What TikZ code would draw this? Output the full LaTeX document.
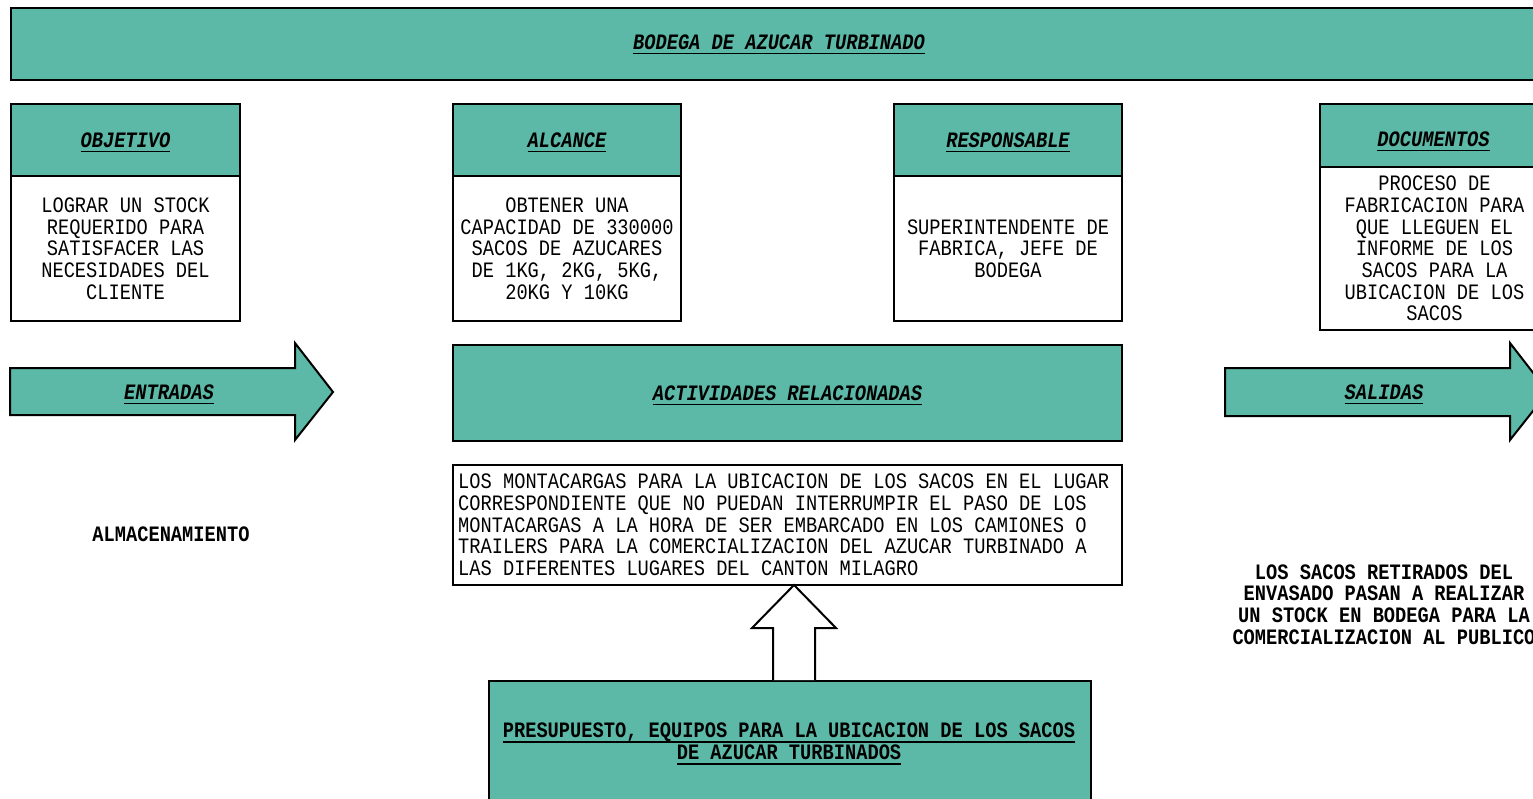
\documentclass[tikz,border=0pt]{standalone}
\usepackage{fontspec}
\setmainfont{Liberation Mono}[FakeStretch=0.85]
\definecolor{teal1}{RGB}{92,185,167}
% thick underline used on the headings (kept out of the box depth)
\newcommand\ulin[1]{\setbox0=\hbox{#1}\leavevmode\rlap{\smash{\rule[-5pt]{\wd0}{1.7pt}}}\box0}
\tikzset{
  base/.style={draw=black, line width=2pt, inner sep=0pt, anchor=north west,
    font=\fontsize{22}{21.7}\selectfont, align=center},
  tealbox/.style={base, fill=teal1},
  whitebox/.style={base, fill=white},
  bigarrow/.style={draw=black, line width=2pt, line join=miter},
  hdr/.style={font=\fontsize{22}{21.7}\selectfont\bfseries\itshape},
  plain/.style={font=\fontsize{22}{21.7}\selectfont\bfseries, align=center},
}
\begin{document}
\begin{tikzpicture}[x=1pt, y=-1pt]
\useasboundingbox (0,0) rectangle (1533,798);
\clip (0,0) rectangle (1533,798);
\fill[white] (0,0) rectangle (1533,798);

% title bar
\node[tealbox, minimum width=1538, minimum height=72] (title) at (10,7) {};
\node[hdr] at (779,42) {\ulin{BODEGA DE AZUCAR TURBINADO}};

% four heading columns
\node[tealbox, minimum width=229, minimum height=72] (objh) at (10,103) {};
\node[hdr] at (objh.center) {\ulin{OBJETIVO}};
\node[whitebox, minimum width=229, minimum height=145] (objb) at (10,175)
  {LOGRAR UN STOCK\\REQUERIDO PARA\\SATISFACER LAS\\NECESIDADES DEL\\CLIENTE};

\node[tealbox, minimum width=228, minimum height=72] (alch) at (452,103) {};
\node[hdr] at (alch.center) {\ulin{ALCANCE}};
\node[whitebox, minimum width=228, minimum height=145] (alcb) at (452,175)
  {OBTENER UNA\\CAPACIDAD DE 330000\\SACOS DE AZUCARES\\DE 1KG, 2KG, 5KG,\\20KG Y 10KG};

\node[tealbox, minimum width=228, minimum height=72] (resh) at (893,103) {};
\node[hdr] at (resh.center) {\ulin{RESPONSABLE}};
\node[whitebox, minimum width=228, minimum height=145] (resb) at (893,175)
  {SUPERINTENDENTE DE\\FABRICA, JEFE DE\\BODEGA};

\node[tealbox, minimum width=229, minimum height=63] (doch) at (1319,103) {};
\node[hdr] at (1433.5,139) {\ulin{DOCUMENTOS}};
\node[whitebox, minimum width=229, minimum height=163] (docb) at (1319,166)
  {PROCESO DE\\FABRICACION PARA\\QUE LLEGUEN EL\\INFORME DE LOS\\SACOS PARA LA\\UBICACION DE LOS\\SACOS};

% entradas arrow
\draw[bigarrow, fill=teal1] (10,368) -- (295,368) -- (295,343) -- (333,392)
  -- (295,440) -- (295,415) -- (10,415) -- cycle;
\node[hdr] (ent) at (169,392) {\ulin{ENTRADAS}};

% central activities
\node[tealbox, minimum width=669, minimum height=96] (act) at (452,344) {};
\node[hdr] at (act.center) {\ulin{ACTIVIDADES RELACIONADAS}};

% salidas arrow
\draw[bigarrow, fill=teal1] (1225,368) -- (1510,368) -- (1510,343) -- (1548,392)
  -- (1510,440) -- (1510,416) -- (1225,416) -- cycle;
\node[hdr] (sal) at (1384,392) {\ulin{SALIDAS}};

% description box, text set line by line from the left edge
\node[whitebox, minimum width=669, minimum height=120] (desc) at (452,464) {};
\node[anchor=west, inner sep=0pt, align=left,
  font=\fontsize{22}{21.7}\selectfont] (desct) at ([xshift=6pt]desc.west)
  {LOS MONTACARGAS PARA LA UBICACION DE LOS SACOS EN EL LUGAR\\
   CORRESPONDIENTE QUE NO PUEDAN INTERRUMPIR EL PASO DE LOS\\
   MONTACARGAS A LA HORA DE SER EMBARCADO EN LOS CAMIONES O\\
   TRAILERS PARA LA COMERCIALIZACION DEL AZUCAR TURBINADO A\\
   LAS DIFERENTES LUGARES DEL CANTON MILAGRO};

% budget box
\node[tealbox, minimum width=602, minimum height=140] (pres) at (488,680) {};
\node[plain] (prest) at (789,741.5)
  {\ulin{PRESUPUESTO, EQUIPOS PARA LA UBICACION DE LOS SACOS}\\\ulin{DE AZUCAR TURBINADOS}};

% hollow arrow from budget to description
\draw[bigarrow, fill=white] (773,680) -- (773,628) -- (752,628) -- (794,585)
  -- (836,628) -- (815,628) -- (815,680);

% side notes
\node[plain] (alm) at (171,534) {ALMACENAMIENTO};
\node[plain] (sacos) at (1384,604.5)
  {LOS SACOS RETIRADOS DEL\\ENVASADO PASAN A REALIZAR\\UN STOCK EN BODEGA PARA LA\\COMERCIALIZACION AL PUBLICO};
\end{tikzpicture}
\end{document}
